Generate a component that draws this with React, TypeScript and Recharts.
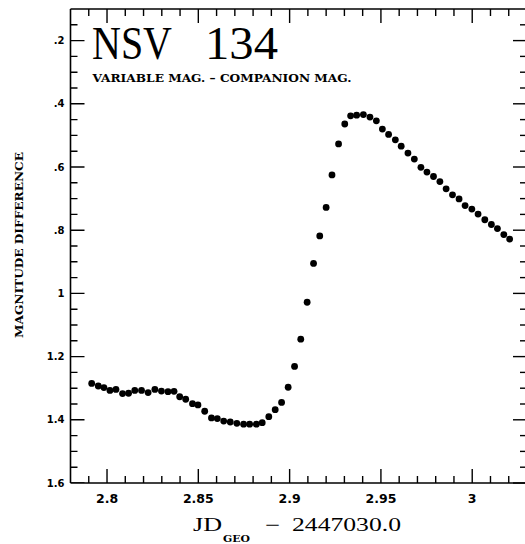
import { ScatterChart, Scatter, XAxis, YAxis } from "recharts";

// JD - 2447030.0
const jd = [
  2.7916, 2.7952, 2.7983, 2.8016, 2.8049, 2.8085, 2.8118, 2.8152, 2.8189, 2.8225,
  2.8262, 2.8298, 2.8334, 2.8367, 2.8398, 2.8431, 2.8468, 2.8498, 2.8535, 2.8572,
  2.8604, 2.8639, 2.8675, 2.8711, 2.8748, 2.8781, 2.8818, 2.885, 2.8886, 2.8921,
  2.8956, 2.8992, 2.9027, 2.9061, 2.9096, 2.9131, 2.9165, 2.92, 2.9232, 2.9268,
  2.9302, 2.9334, 2.9367, 2.9404, 2.944, 2.9475, 2.9508, 2.9542, 2.9579, 2.9611,
  2.9648, 2.9683, 2.9719, 2.9752, 2.9788, 2.9823, 2.9857, 2.9892, 2.9928, 2.9961,
  2.9998, 3.0032, 3.0069, 3.0105, 3.0138, 3.0173, 3.0205,
];

// variable mag - companion mag
const magDiff = [
  1.285, 1.293, 1.298, 1.307, 1.304, 1.317, 1.316, 1.307, 1.307, 1.314,
  1.304, 1.309, 1.311, 1.31, 1.327, 1.335, 1.349, 1.353, 1.373, 1.394,
  1.396, 1.404, 1.407, 1.411, 1.414, 1.414, 1.414, 1.409, 1.39, 1.368,
  1.345, 1.297, 1.231, 1.145, 1.028, 0.905, 0.818, 0.728, 0.625, 0.527,
  0.464, 0.438, 0.436, 0.434, 0.442, 0.454, 0.48, 0.497, 0.514, 0.534,
  0.556, 0.575, 0.601, 0.616, 0.63, 0.646, 0.669, 0.688, 0.701, 0.722,
  0.733, 0.749, 0.767, 0.782, 0.795, 0.814, 0.828,
];

const xMajorTicks = [2.8, 2.85, 2.9, 2.95, 3];
const xMajorLabels = ["2.8", "2.85", "2.9", "2.95", "3"];
const xMinorTicks = [
  2.79, 2.81, 2.82, 2.83, 2.84, 2.86, 2.87, 2.88, 2.89, 2.91, 2.92, 2.93, 2.94,
  2.96, 2.97, 2.98, 2.99, 3.01, 3.02,
];

const yMajorTicks = [0.2, 0.4, 0.6, 0.8, 1, 1.2, 1.4, 1.6];
const yMajorLabels = [".2", ".4", ".6", ".8", "1", "1.2", "1.4", "1.6"];
const yMinorTicks = [
  0.15, 0.25, 0.3, 0.35, 0.45, 0.5, 0.55, 0.65, 0.7, 0.75, 0.85, 0.9, 0.95,
  1.05, 1.1, 1.15, 1.25, 1.3, 1.35, 1.45, 1.5, 1.55,
];

const X_DOMAIN = [2.78, 3.03];
const Y_DOMAIN = [0.1, 1.6];

const data = jd.map((x, i) => ({ x, y: magDiff[i] }));
const xTicks = [...xMajorTicks, ...xMinorTicks].sort((a, b) => a - b);
const yTicks = [...yMajorTicks, ...yMinorTicks].sort((a, b) => a - b);

// tick marks on bottom / left edges, placed through the chart scales
const bottomEdge = xTicks.map((x) => ({ x, y: Y_DOMAIN[1] }));
const leftEdge = yTicks.map((y) => ({ x: X_DOMAIN[0], y }));

const majorIndex = (v: number, list: number[]) =>
  list.findIndex((m) => Math.abs(m - v) < 1e-6);

const INK = "#000";
const labelFont = "'DejaVu Sans', sans-serif";
const serif = "'DejaVu Serif', serif";
const times = "'Liberation Serif', serif";

function XTick(props: any) {
  const { x, y, payload, pos } = props;
  const i = majorIndex(payload.value, xMajorTicks);
  const len = i >= 0 ? 14 : 7;
  if (pos === "top") {
    return <path d={`M${x},${y}L${x},${y + len}`} stroke={INK} strokeWidth={1.4} fill="none" />;
  }
  return i >= 0 ? (
    <text x={x} y={y + 20} textAnchor="middle" fontFamily={labelFont}
      fontWeight="bold" fontSize={12.5} fill={INK} stroke="none">
      {xMajorLabels[i]}
    </text>
  ) : (
    <g />
  );
}

function YTick(props: any) {
  const { x, y, payload, pos } = props;
  const i = majorIndex(payload.value, yMajorTicks);
  const len = i >= 0 ? 14 : 7;
  if (pos === "right") {
    return <path d={`M${x},${y}L${x - len},${y}`} stroke={INK} strokeWidth={1.4} fill="none" />;
  }
  return i >= 0 ? (
    <text x={x - 6} y={y + 3.6} textAnchor="end" fontFamily={labelFont}
      fontWeight="bold" fontSize={10} fill={INK} stroke="none">
      {yMajorLabels[i]}
    </text>
  ) : (
    <g />
  );
}

const BottomMark = (props: any) => {
  const len = majorIndex(props.payload.x, xMajorTicks) >= 0 ? 14 : 7;
  return <path d={`M${props.cx},${props.cy}L${props.cx},${props.cy - len}`} stroke={INK} strokeWidth={1.4} fill="none" />;
};

const LeftMark = (props: any) => {
  const len = majorIndex(props.payload.y, yMajorTicks) >= 0 ? 14 : 7;
  return <path d={`M${props.cx},${props.cy}L${props.cx + len},${props.cy}`} stroke={INK} strokeWidth={1.4} fill="none" />;
};

const Dot = (props: any) => <circle cx={props.cx} cy={props.cy} r={3.4} fill={INK} />;

export default function App() {
  const axisLine = { stroke: INK, strokeWidth: 1.6 };
  return (
    <div style={{ position: "absolute", left: 0, top: 0, width: 525, height: 544, overflow: "hidden", background: "#fff" }}>
      <ScatterChart width={530} height={544} margin={{ top: 8, right: 2, bottom: 0, left: 0 }}>
        <XAxis xAxisId="b" dataKey="x" type="number" domain={X_DOMAIN} allowDataOverflow
          ticks={xTicks} interval={0} tickSize={0} tickMargin={0} tickLine={false}
          axisLine={axisLine} height={61} tick={<XTick pos="bottom" />} />
        <XAxis xAxisId="t" orientation="top" dataKey="x" type="number" domain={X_DOMAIN} allowDataOverflow
          ticks={xTicks} interval={0} tickSize={0} tickMargin={0} tickLine={false}
          axisLine={axisLine} height={1} tick={<XTick pos="top" />} />
        <YAxis yAxisId="l" dataKey="y" type="number" domain={Y_DOMAIN} reversed allowDataOverflow
          ticks={yTicks} interval={0} tickSize={0} tickMargin={0} tickLine={false}
          axisLine={axisLine} width={70.5} tick={<YTick pos="left" />} />
        <YAxis yAxisId="r" orientation="right" dataKey="y" type="number" domain={Y_DOMAIN} reversed allowDataOverflow
          ticks={yTicks} interval={0} tickSize={0} tickMargin={0} tickLine={false}
          axisLine={axisLine} width={1} tick={<YTick pos="right" />} />
        <Scatter data={bottomEdge} xAxisId="b" yAxisId="l" shape={BottomMark} isAnimationActive={false} />
        <Scatter data={leftEdge} xAxisId="b" yAxisId="l" shape={LeftMark} isAnimationActive={false} />
        <Scatter data={data} xAxisId="b" yAxisId="l" shape={Dot} isAnimationActive={false} />
        <Scatter data={data} xAxisId="t" yAxisId="r" shape={() => null} isAnimationActive={false} />

        <text x={92} y={59} fontFamily={times} fontSize={46} fill={INK}
          textLength={80} lengthAdjust="spacingAndGlyphs">NSV</text>
        <text x={205} y={59} fontFamily={times} fontSize={46} fill={INK}
          textLength={73} lengthAdjust="spacingAndGlyphs">134</text>
        <text x={92.5} y={81.7} fontFamily={serif} fontWeight="bold" fontSize={10.5} fill={INK}
          textLength={259} lengthAdjust="spacingAndGlyphs">VARIABLE MAG. – COMPANION MAG.</text>

        <text transform="translate(22.5,245) rotate(-90)" textAnchor="middle" fontFamily={serif}
          fontWeight="bold" fontSize={10.5} fill={INK} textLength={186} lengthAdjust="spacingAndGlyphs">
          MAGNITUDE DIFFERENCE
        </text>

        <text x={193} y={531} fontFamily={times} fontSize={18} fill={INK}
          textLength={29} lengthAdjust="spacingAndGlyphs">JD</text>
        <text x={223} y={541.5} fontFamily={serif} fontWeight="bold" fontSize={9} fill={INK}
          textLength={27} lengthAdjust="spacingAndGlyphs">GEO</text>
        <text x={265} y={531} fontFamily={times} fontSize={18} fill={INK}
          textLength={15} lengthAdjust="spacingAndGlyphs">−</text>
        <text x={292} y={531} fontFamily={times} fontSize={18} fill={INK}
          textLength={109} lengthAdjust="spacingAndGlyphs">2447030.0</text>
      </ScatterChart>
    </div>
  );
}
